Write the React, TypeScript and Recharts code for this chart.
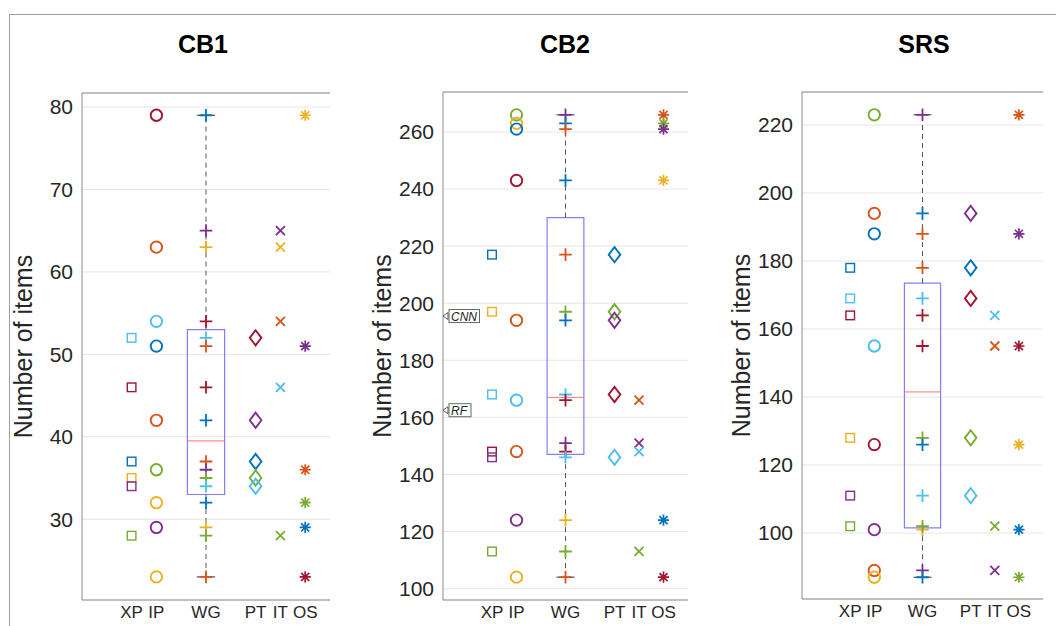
import React from 'react';
import {
  ScatterChart,
  Scatter,
  XAxis,
  YAxis,
  CartesianGrid,
  ReferenceArea,
  ReferenceLine,
  ReferenceDot,
} from 'recharts';

type Pt = [number, string];

const COLORS: Record<string, string> = {
  b: '#0072BD',
  o: '#D95319',
  y: '#EDB120',
  p: '#7E2F8E',
  g: '#77AC30',
  c: '#4DBEEE',
  r: '#A2142F',
};

const CATEGORIES = ['XP', 'IP', 'WG', 'PT', 'IT', 'OS'];
const CATEGORY_X = [2, 3, 5, 7, 8, 9];
const MARKERS = ['square', 'circle', 'plus', 'diamond', 'cross', 'star'];

// CB1
const CB1_XP: Pt[] = [[52, 'c'], [46, 'r'], [37, 'b'], [35, 'y'], [34, 'p'], [28, 'g']];
const CB1_IP: Pt[] = [[79, 'r'], [63, 'o'], [54, 'c'], [51, 'b'], [42, 'o'], [36, 'g'], [32, 'y'], [29, 'p'], [23, 'y']];
const CB1_WG: Pt[] = [
  [79, 'b'], [65, 'p'], [63, 'y'], [54, 'r'], [52, 'c'], [51, 'o'], [46, 'r'], [42, 'b'],
  [37, 'o'], [36, 'p'], [35, 'g'], [34, 'c'], [32, 'b'], [29, 'y'], [28, 'g'], [23, 'o'],
];
const CB1_PT: Pt[] = [[52, 'r'], [42, 'p'], [37, 'b'], [35, 'g'], [34, 'c']];
const CB1_IT: Pt[] = [[65, 'p'], [63, 'y'], [54, 'o'], [46, 'c'], [28, 'g']];
const CB1_OS: Pt[] = [[79, 'y'], [51, 'p'], [36, 'o'], [32, 'g'], [29, 'b'], [23, 'r']];
const CB1_BOX = [23, 33, 39.5, 53, 79]; // min, q1, median, q3, max
const CB1_TICKS = [30, 40, 50, 60, 70, 80];
const CB1_DOMAIN = [20.2, 81.7];

// CB2
const CB2_XP: Pt[] = [[217, 'b'], [197, 'y'], [168, 'c'], [148, 'r'], [146, 'p'], [113, 'g']];
const CB2_IP: Pt[] = [[266, 'g'], [263, 'y'], [261, 'b'], [243, 'r'], [194, 'o'], [166, 'c'], [148, 'o'], [124, 'p'], [104, 'y']];
const CB2_WG: Pt[] = [
  [266, 'p'], [263, 'b'], [261, 'o'], [243, 'b'], [217, 'o'], [197, 'g'], [194, 'b'], [168, 'c'],
  [166, 'r'], [151, 'p'], [148, 'r'], [146, 'c'], [124, 'y'], [113, 'g'], [104, 'o'],
];
const CB2_PT: Pt[] = [[217, 'b'], [197, 'g'], [194, 'p'], [168, 'r'], [146, 'c']];
const CB2_IT: Pt[] = [[166, 'o'], [151, 'p'], [148, 'c'], [113, 'g']];
const CB2_OS: Pt[] = [[266, 'o'], [263, 'g'], [261, 'p'], [243, 'y'], [124, 'b'], [104, 'r']];
const CB2_BOX = [104, 147, 167, 230, 266];
const CB2_TICKS = [100, 120, 140, 160, 180, 200, 220, 240, 260];
const CB2_DOMAIN = [96, 274];
const CB2_NOTES: [string, number][] = [['CNN', 195.5], ['RF', 162.5]];

// SRS
const SRS_XP: Pt[] = [[178, 'b'], [169, 'c'], [164, 'r'], [128, 'y'], [111, 'p'], [102, 'g']];
const SRS_IP: Pt[] = [[223, 'g'], [194, 'o'], [188, 'b'], [155, 'c'], [126, 'r'], [101, 'p'], [89, 'o'], [87, 'y']];
const SRS_WG: Pt[] = [
  [223, 'p'], [194, 'b'], [188, 'o'], [178, 'o'], [169, 'c'], [164, 'r'], [155, 'r'], [128, 'g'],
  [126, 'b'], [111, 'c'], [101, 'y'], [102, 'g'], [89, 'p'], [87, 'b'],
];
const SRS_PT: Pt[] = [[194, 'p'], [178, 'b'], [169, 'r'], [128, 'g'], [111, 'c']];
const SRS_IT: Pt[] = [[164, 'c'], [155, 'o'], [102, 'g'], [89, 'p']];
const SRS_OS: Pt[] = [[223, 'o'], [188, 'p'], [155, 'r'], [126, 'y'], [101, 'b'], [87, 'g']];
const SRS_BOX = [87, 101.5, 141.5, 173.5, 223];
const SRS_TICKS = [100, 120, 140, 160, 180, 200, 220];
const SRS_DOMAIN = [80.6, 229.7];

const PANELS = [
  { title: 'CB1', series: [CB1_XP, CB1_IP, CB1_WG, CB1_PT, CB1_IT, CB1_OS], box: CB1_BOX, ticks: CB1_TICKS, domain: CB1_DOMAIN, notes: [] as [string, number][] },
  { title: 'CB2', series: [CB2_XP, CB2_IP, CB2_WG, CB2_PT, CB2_IT, CB2_OS], box: CB2_BOX, ticks: CB2_TICKS, domain: CB2_DOMAIN, notes: CB2_NOTES },
  { title: 'SRS', series: [SRS_XP, SRS_IP, SRS_WG, SRS_PT, SRS_IT, SRS_OS], box: SRS_BOX, ticks: SRS_TICKS, domain: SRS_DOMAIN, notes: [] as [string, number][] },
];

// where each panel sits on the page
const LAYOUT = [
  { left: 0, top: 60, width: 340, height: 566, yWidth: 82, labelX: 23 },
  { left: 350, top: 59, width: 348, height: 567, yWidth: 93, labelX: 32 },
  { left: 700, top: 59, width: 353, height: 566, yWidth: 102, labelX: 41 },
];

const FONT = '"Liberation Sans", Arial, sans-serif';
const TEXT = '#262626';
const FRAME = '#8c8c8c';
const BOX_HALF = 0.75;
const CAP_HALF = 0.37;

function Marker({ kind, cx, cy, color }: { kind: string; cx: number; cy: number; color: string }) {
  if (cx == null || cy == null) return null;
  switch (kind) {
    case 'square':
      return <rect x={cx - 4.3} y={cy - 4.3} width={8.6} height={8.6} fill="none" stroke={color} strokeWidth={1.4} />;
    case 'circle':
      return <circle cx={cx} cy={cy} r={5.7} fill="none" stroke={color} strokeWidth={1.9} />;
    case 'plus':
      return <path d={`M${cx - 6.3},${cy}H${cx + 6.3}M${cx},${cy - 6.3}V${cy + 6.3}`} stroke={color} strokeWidth={1.8} />;
    case 'diamond':
      return <path d={`M${cx},${cy - 7.6}L${cx + 5.8},${cy}L${cx},${cy + 7.6}L${cx - 5.8},${cy}Z`} fill="none" stroke={color} strokeWidth={1.9} />;
    case 'cross': {
      const a = 4.5;
      return <path d={`M${cx - a},${cy - a}L${cx + a},${cy + a}M${cx - a},${cy + a}L${cx + a},${cy - a}`} stroke={color} strokeWidth={1.8} />;
    }
    default: {
      const a = 5.6;
      const d = a * 0.72;
      return (
        <path
          d={`M${cx - a},${cy}H${cx + a}M${cx},${cy - a}V${cy + a}M${cx - d},${cy - d}L${cx + d},${cy + d}M${cx - d},${cy + d}L${cx + d},${cy - d}`}
          stroke={color}
          strokeWidth={1.7}
        />
      );
    }
  }
}

function Note({ cx, cy, label }: { cx?: number; cy?: number; label: string }) {
  if (cx == null || cy == null) return null;
  const w = label.length * 8.5 + 5;
  return (
    <g>
      <path d={`M${cx},${cy}L${cx + 5},${cy - 3.5}L${cx + 5},${cy + 3.5}Z`} fill="#fff" stroke="#333" strokeWidth={0.8} />
      <rect x={cx + 6} y={cy - 6.5} width={w} height={13} fill="#fff" stroke="#5b6e5b" strokeWidth={1} />
      <text x={cx + 8} y={cy + 4.5} fontSize={12} fontStyle="italic" fill="#222">
        {label}
      </text>
    </g>
  );
}

function Panel({ idx }: { idx: number }) {
  const p = PANELS[idx];
  const l = LAYOUT[idx];
  const [lo, q1, med, q3, hi] = p.box;
  const wgX = CATEGORY_X[2];
  const axisProps = { xAxisId: 'b', yAxisId: 'l' };
  const catLabel = (v: number) => CATEGORIES[CATEGORY_X.indexOf(v)] ?? '';

  return (
    <div style={{ position: 'absolute', left: l.left, top: l.top }}>
      <ScatterChart width={l.width} height={l.height} margin={{ top: 3, right: 10, bottom: 0, left: 0 }}>
        <CartesianGrid {...axisProps} vertical={false} stroke="#e6e6e6" />
        <XAxis
          xAxisId="b"
          type="number"
          dataKey="x"
          domain={[0, 10]}
          ticks={CATEGORY_X}
          interval={0}
          tickFormatter={catLabel}
          height={26}
          tickLine={false}
          tickSize={0}
          tickMargin={6}
          axisLine={{ stroke: FRAME }}
          tick={{ fontSize: 17, fill: TEXT }}
        />
        <XAxis
          xAxisId="t"
          orientation="top"
          type="number"
          dataKey="x"
          domain={[0, 10]}
          ticks={CATEGORY_X}
          interval={0}
          tickFormatter={catLabel}
          height={30}
          tickLine={false}
          tickSize={0}
          tickMargin={10}
          axisLine={{ stroke: FRAME }}
          tick={{ fontSize: 17, fill: TEXT }}
        />
        <YAxis
          yAxisId="l"
          type="number"
          dataKey="y"
          domain={p.domain}
          allowDataOverflow
          ticks={p.ticks}
          interval={0}
          width={l.yWidth}
          tickLine={false}
          tickSize={0}
          tickMargin={9}
          axisLine={{ stroke: FRAME }}
          tick={{ fontSize: 21, fill: TEXT }}
          label={{
            value: 'Number of items',
            angle: -90,
            position: 'insideLeft',
            offset: l.labelX,
            style: { textAnchor: 'middle', fontSize: 25, fill: TEXT },
          }}
        />
        <YAxis
          yAxisId="li"
          type="number"
          dataKey="y"
          domain={p.domain}
          allowDataOverflow
          ticks={p.ticks}
          interval={0}
          width={0}
          mirror
          tick={false}
          tickSize={4}
          tickLine={{ stroke: FRAME }}
          axisLine={false}
        />
        <YAxis
          yAxisId="r"
          orientation="right"
          type="number"
          dataKey="y"
          domain={p.domain}
          allowDataOverflow
          ticks={p.ticks}
          interval={0}
          width={0}
          mirror
          tick={false}
          tickSize={4}
          tickLine={{ stroke: FRAME }}
          axisLine={{ stroke: FRAME }}
        />

        <ReferenceLine {...axisProps} segment={[{ x: wgX, y: q3 }, { x: wgX, y: hi }]} stroke="#555" strokeDasharray="5 4" />
        <ReferenceLine {...axisProps} segment={[{ x: wgX, y: lo }, { x: wgX, y: q1 }]} stroke="#555" strokeDasharray="5 4" />
        <ReferenceLine {...axisProps} segment={[{ x: wgX - CAP_HALF, y: hi }, { x: wgX + CAP_HALF, y: hi }]} stroke="#333" />
        <ReferenceLine {...axisProps} segment={[{ x: wgX - CAP_HALF, y: lo }, { x: wgX + CAP_HALF, y: lo }]} stroke="#333" />
        <ReferenceArea {...axisProps} x1={wgX - BOX_HALF} x2={wgX + BOX_HALF} y1={q1} y2={q3} fill="none" fillOpacity={0} stroke="#7f7fff" strokeWidth={1.2} />
        <ReferenceLine {...axisProps} segment={[{ x: wgX - BOX_HALF, y: med }, { x: wgX + BOX_HALF, y: med }]} stroke="#ff7373" />

        {p.notes.map(([label, y]) => (
          <ReferenceDot key={label} {...axisProps} x={0} y={y} ifOverflow="visible" shape={(s: any) => <Note cx={s.cx} cy={s.cy} label={label} />} />
        ))}

        {p.series.map((pts, i) => (
          <Scatter
            key={CATEGORIES[i]}
            {...axisProps}
            data={pts.map(([v, c]) => ({ x: CATEGORY_X[i], y: v, c }))}
            isAnimationActive={false}
            shape={(s: any) => <Marker kind={MARKERS[i]} cx={s.cx} cy={s.cy} color={COLORS[s.payload.c]} />}
          />
        ))}
      </ScatterChart>
    </div>
  );
}

const TITLE_X = [203, 565, 924];

export default function App() {
  return (
    <div style={{ position: 'absolute', left: 0, top: 0, width: 1056, height: 626, background: '#fff', fontFamily: FONT, overflow: 'hidden' }}>
      <svg width={1056} height={626} style={{ position: 'absolute', left: 0, top: 0 }}>
        <line x1={9} y1={14.5} x2={1056} y2={14.5} stroke="#a0a0a0" />
        <line x1={9.5} y1={14} x2={9.5} y2={626} stroke="#a0a0a0" />
        {PANELS.map((p, i) => (
          <text key={p.title} x={TITLE_X[i]} y={53} textAnchor="middle" fontSize={25} fontWeight="bold" fill="#000">
            {p.title}
          </text>
        ))}
      </svg>
      {PANELS.map((p, i) => (
        <Panel key={p.title} idx={i} />
      ))}
    </div>
  );
}
